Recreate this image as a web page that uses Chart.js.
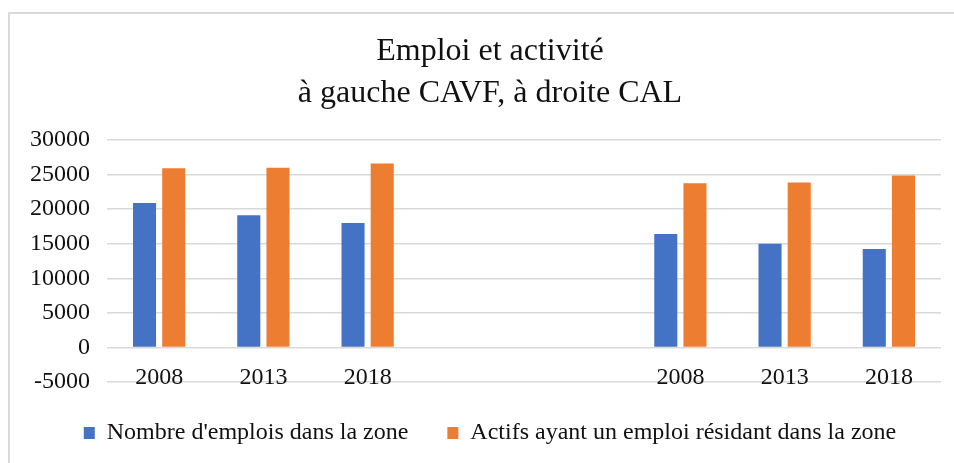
<!DOCTYPE html>
<html lang="fr">
<head>
<meta charset="utf-8">
<title>Emploi et activité</title>
<script src="https://cdn.jsdelivr.net/npm/chart.js@4.4.1/dist/chart.umd.min.js"></script>
<style>
  html, body { margin: 0; padding: 0; background: #fff; overflow: hidden; }
  #wrap { position: relative; width: 954px; height: 463px; }
  #frame {
    position: absolute; left: 8px; top: 12px; width: 2000px; height: 2000px;
    border-left: 2px solid #d9d9d9; border-top: 2px solid #d9d9d9;
  }
  canvas { position: absolute; left: 0; top: 0; }
</style>
</head>
<body>
<div id="wrap">
  <div id="frame"></div>
  <canvas id="chart" width="954" height="463"></canvas>
</div>
<script>
// -- data --------------------------------------------------------------
// left group = CAVF, right group = CAL, two empty slots in between
const CATEGORIES = ['2008', '2013', '2018', '', '', '2008', '2013', '2018'];
const EMPLOIS    = [20900, 19100, 18000, null, null, 16400, 15000, 14250];
const ACTIFS     = [25900, 26000, 26600, null, null, 23750, 23850, 24850];
const TITLE      = ['Emploi et activité', 'à gauche CAVF, à droite CAL'];
const SERIES     = ["Nombre d'emplois dans la zone", 'Actifs ayant un emploi résidant dans la zone'];

const FONT = "'Liberation Serif', 'Times New Roman', serif";
const C = { blue: '#4472C4', orange: '#ED7D31', grid: '#d9d9d9', text: '#111' };

Chart.defaults.font.family = FONT;
Chart.defaults.color = C.text;

new Chart(document.getElementById('chart'), {
  type: 'bar',
  data: {
    labels: CATEGORIES,
    datasets: [
      { label: SERIES[0], data: EMPLOIS, backgroundColor: C.blue },
      { label: SERIES[1], data: ACTIFS,  backgroundColor: C.orange },
    ],
  },
  options: {
    responsive: false,
    animation: false,
    datasets: { bar: { categoryPercentage: 0.56, barPercentage: 0.79 } },
    layout: { padding: { left: 39, right: 13, top: 0, bottom: 8 } },
    plugins: {
      title: {
        display: true,
        text: TITLE,
        color: C.text,
        font: { family: FONT, size: 32, weight: 'normal', lineHeight: 42 / 32 },
        padding: { top: 31, bottom: 25 },
      },
      legend: {
        position: 'bottom',
        labels: {
          boxWidth: 11,
          boxHeight: 12,
          padding: 39,
          color: C.text,
          font: { family: FONT, size: 24 },
        },
      },
      tooltip: { enabled: false },
    },
    scales: {
      x: {
        // category labels sit just under the zero line, like the original
        position: { y: 0 },
        grid: { display: false, drawTicks: false },
        border: { display: false },
        ticks: { padding: 16, font: { family: FONT, size: 24 }, color: C.text, maxRotation: 0 },
      },
      y: {
        min: -5000,
        max: 30000,
        grid: { color: C.grid, lineWidth: 1.5, drawTicks: false },
        border: { display: false },
        ticks: {
          stepSize: 5000,
          mirror: true,          // avoids label clipping, labels pushed back left
          crossAlign: 'far',
          padding: -77,
          font: { family: FONT, size: 24 },
          color: C.text,
          callback: (v) => String(v),
        },
        afterFit: (s) => { s.width = 68; },
      },
    },
  },
});
</script>
</body>
</html>
